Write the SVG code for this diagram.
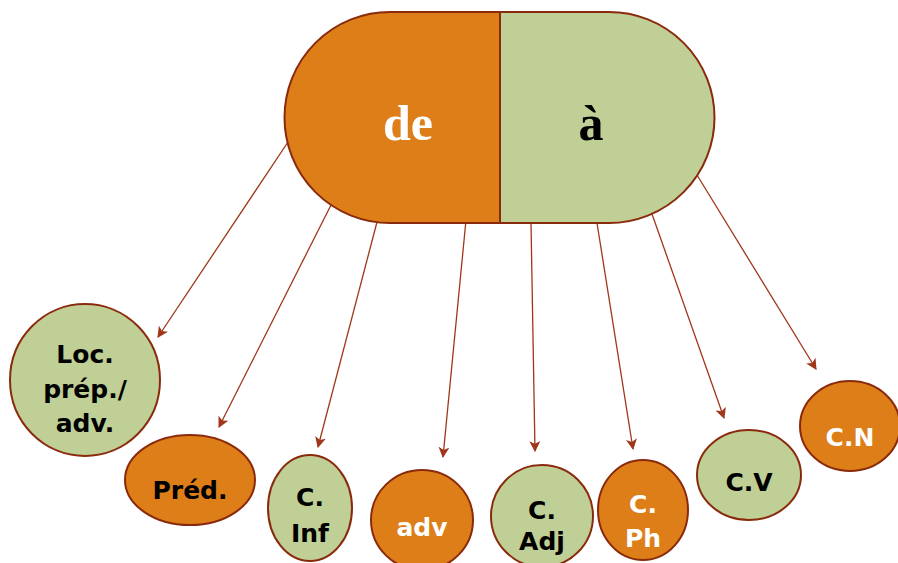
<svg xmlns="http://www.w3.org/2000/svg" width="898" height="563" viewBox="0 0 898 563">
<defs>
<style>
.or{fill:#DE7E18;stroke:#8A2A0C;stroke-width:2}
.gr{fill:#BFCF95;stroke:#8A2A0C;stroke-width:2}
.lbl{font-family:"Century Gothic","URW Gothic","DejaVu Sans","Liberation Sans",sans-serif;font-weight:bold;font-size:25px;text-anchor:middle}
.w{fill:#FFFFFF}
.k{fill:#000000}
.big{font-family:"Liberation Serif","Times New Roman",serif;font-weight:bold;font-size:50px;text-anchor:middle}
.con line{stroke:#A0361A;stroke-width:1.3;fill:none;marker-end:url(#ah)}
</style>
<marker id="ah" viewBox="0 0 10 10" refX="9" refY="5" markerWidth="11" markerHeight="11" markerUnits="userSpaceOnUse" orient="auto">
<path d="M0,0 L10,5 L0,10 L2.5,5 Z" fill="#A0361A"/>
</marker>
</defs>
<rect width="898" height="563" fill="#FFFFFF"/>
<g class="con">
<line x1="288" y1="142" x2="158" y2="337"/>
<line x1="331" y1="205" x2="219" y2="427"/>
<line x1="377" y1="222" x2="318" y2="447"/>
<line x1="466" y1="220" x2="443" y2="457"/>
<line x1="531" y1="223" x2="535" y2="451"/>
<line x1="597" y1="223" x2="633" y2="449"/>
<line x1="652" y1="214" x2="724" y2="418"/>
<line x1="697" y1="175" x2="816" y2="369"/>
</g>
<g id="capsule">
<path class="or" d="M500,12 L390,12 A105.5,105.5 0 0 0 390,223 L500,223 Z"/>
<path class="gr" d="M500,12 L609,12 A105.5,105.5 0 0 1 609,223 L500,223 Z"/>
<text class="big w" x="408" y="140">de</text>
<text class="big k" x="591" y="140">à</text>
</g>
<g id="loc">
<ellipse class="gr" cx="85" cy="380" rx="75" ry="76"/>
<text class="lbl k" x="85" y="363">Loc.</text>
<text class="lbl k" x="85" y="398">prép./</text>
<text class="lbl k" x="85" y="432">adv.</text>
</g>
<g id="pred">
<ellipse class="or" cx="190" cy="480" rx="65" ry="45"/>
<text class="lbl k" x="190" y="499">Préd.</text>
</g>
<g id="cinf">
<ellipse class="gr" cx="310" cy="508" rx="42" ry="53"/>
<text class="lbl k" x="310" y="506">C.</text>
<text class="lbl k" x="310" y="542">Inf</text>
</g>
<g id="adv">
<ellipse class="or" cx="422" cy="520" rx="51" ry="50"/>
<text class="lbl w" x="422" y="536">adv</text>
</g>
<g id="cadj">
<ellipse class="gr" cx="542" cy="516" rx="51" ry="51"/>
<text class="lbl k" x="542" y="519">C.</text>
<text class="lbl k" x="542" y="550">Adj</text>
</g>
<g id="cph">
<ellipse class="or" cx="643" cy="510" rx="45" ry="50"/>
<text class="lbl w" x="643" y="513">C.</text>
<text class="lbl w" x="643" y="547">Ph</text>
</g>
<g id="cv">
<ellipse class="gr" cx="749" cy="475" rx="52" ry="45"/>
<text class="lbl k" x="749" y="491">C.V</text>
</g>
<g id="cn">
<ellipse class="or" cx="850" cy="426" rx="50" ry="45"/>
<text class="lbl w" x="850" y="446">C.N</text>
</g>
</svg>
